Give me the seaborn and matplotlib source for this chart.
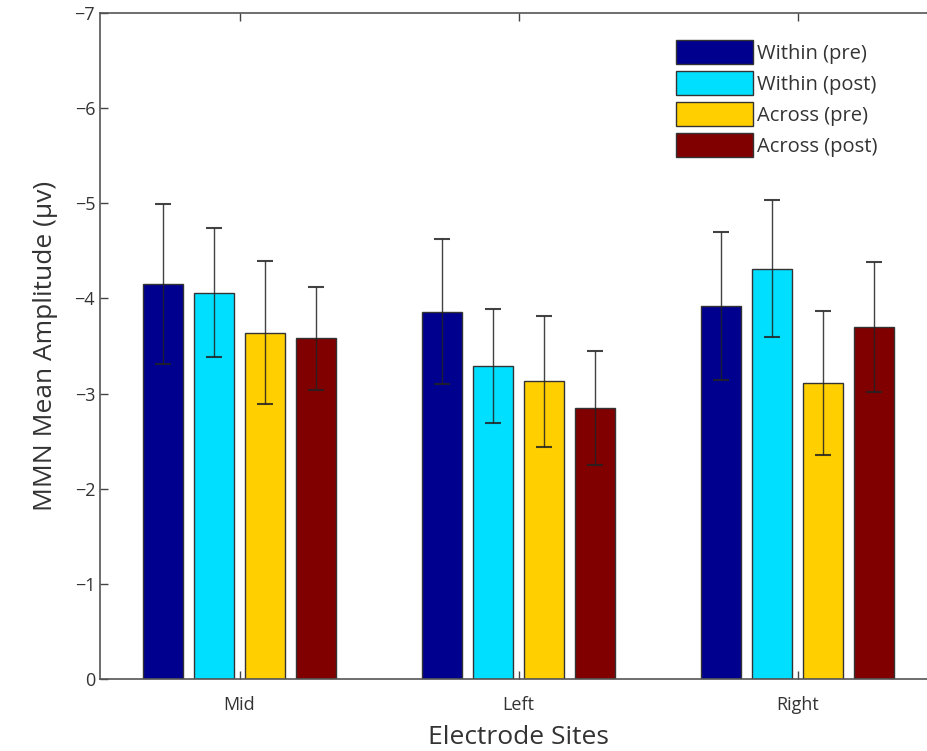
import matplotlib
matplotlib.use("Agg")
import matplotlib.pyplot as plt
import seaborn as sns
import pandas as pd
import numpy as np

sites = ["Mid", "Left", "Right"]
conditions = ["Within (pre)", "Within (post)", "Across (pre)", "Across (post)"]
within_pre = [-4.15, -3.86, -3.92]
within_post = [-4.06, -3.29, -4.31]
across_pre = [-3.64, -3.13, -3.11]
across_post = [-3.58, -2.85, -3.70]
err_within_pre = [0.84, 0.76, 0.78]
err_within_post = [0.68, 0.60, 0.72]
err_across_pre = [0.75, 0.69, 0.76]
err_across_post = [0.54, 0.60, 0.68]

colors = ["#00008F", "#00DFFF", "#FFCF00", "#800000"]

values = [within_pre, within_post, across_pre, across_post]
errs = [err_within_pre, err_within_post, err_across_pre, err_across_post]
rows = []
for c, vals, es in zip(conditions, values, errs):
    for s, v, e in zip(sites, vals, es):
        rows.append({"site": s, "cond": c, "val": v, "err": e})
df = pd.DataFrame(rows)

sns.set_style("white")
plt.rcParams["font.family"] = ["Open Sans", "DejaVu Sans"]

fig = plt.figure(figsize=(9.27, 7.51), dpi=100)
W, H = 927, 751
left, right, top, bottom = 100, 937, 13, 679
ax = fig.add_axes([left / W, 1 - bottom / H, (right - left) / W, (bottom - top) / H])

sns.barplot(data=df, x="site", y="val", hue="cond", order=sites, hue_order=conditions,
            palette=colors, saturation=1, errorbar=None, width=0.73, gap=0.2, ax=ax,
            edgecolor="#333333", linewidth=1.0)

# error bars from bar patches
for ci, cond in enumerate(conditions):
    cont = ax.containers[ci]
    sub = df[df["cond"] == cond].set_index("site").loc[sites]
    xs = [p.get_x() + p.get_width() / 2 for p in cont.patches]
    ax.errorbar(xs, sub["val"].values, yerr=sub["err"].values, fmt="none",
                ecolor="#222222", elinewidth=1.0, capsize=6, capthick=1.5, alpha=0.85)

ax.set_xlim(-0.5, 2.5)
ax.set_ylim(0, -7)
ax.set_yticks([0, -1, -2, -3, -4, -5, -6, -7])
ax.set_yticklabels(["0", "\u22121", "\u22122", "\u22123", "\u22124", "\u22125", "\u22126", "\u22127"])
ax.tick_params(axis="both", direction="in", length=6, width=1, colors="#444444",
               labelsize=13, labelcolor="#333333", top=True, right=False, left=True, bottom=True)
ax.tick_params(axis="x", pad=12)
for sp in ax.spines.values():
    sp.set_color("#555555")
    sp.set_linewidth(1.2)
ax.spines["right"].set_visible(False)

ax.set_xlabel("Electrode Sites", fontsize=19, color="#333333", labelpad=8)
ax.set_ylabel("MMN Mean Amplitude (\u03bcv)", fontsize=19, color="#333333", labelpad=12)

handles, labels = ax.get_legend_handles_labels()
leg = ax.legend(handles, labels, loc="upper left",
                bbox_to_anchor=((676 - left) / (right - left), 1 - (40 - top) / (bottom - top)),
                frameon=False, fontsize=14.5, handlelength=3.8, handleheight=1.45,
                handletextpad=0.2, labelspacing=0.35, borderaxespad=0, borderpad=0)
for t in leg.get_texts():
    t.set_color("#333333")

fig.savefig("out.png", dpi=100, facecolor="white")
